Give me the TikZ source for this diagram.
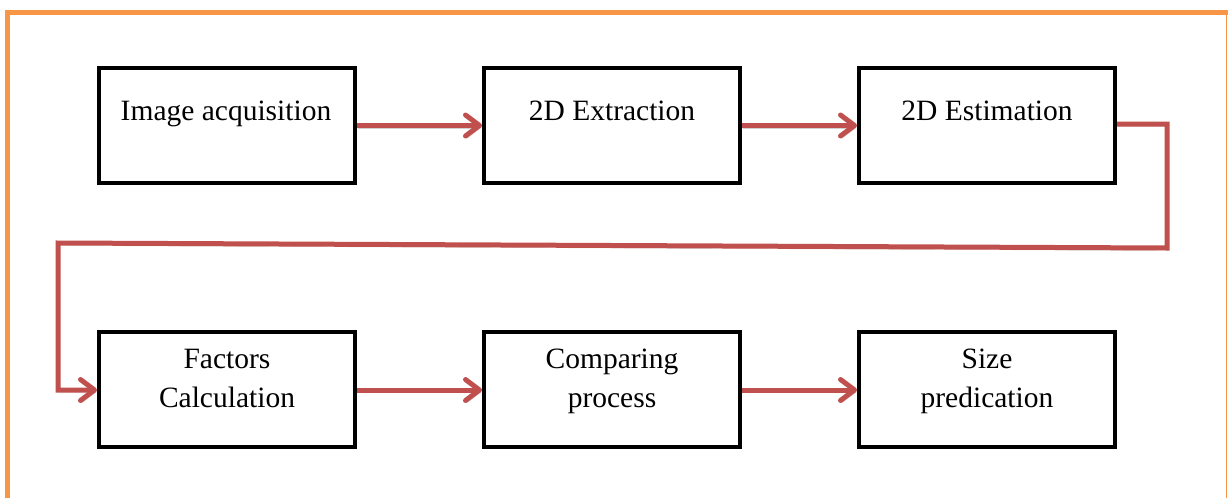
\documentclass[tikz,border=0pt]{standalone}
\usepackage{fontspec}
\setmainfont{Liberation Serif}
\usetikzlibrary{arrows.meta}
\definecolor{framecol}{HTML}{F79646}
\definecolor{arrowred}{HTML}{C0504D}
\tikzset{
  stepbox/.style={draw=black, line width=4pt, minimum width=256pt, minimum height=115pt, inner sep=0pt, fill=white},
  lbl/.style={anchor=base, align=center, inner sep=0pt, font=\fontsize{29.5}{39}\selectfont},
  flow/.style={draw=arrowred, line width=5pt, line join=miter,
    -{Straight Barb[round, length=14pt, width=21pt]},
    preaction={draw=black!18, -{Straight Barb[round, length=14pt, width=21pt]}, transform canvas={xshift=1.2pt, yshift=-2.5pt}}},
}
\begin{document}
\begin{tikzpicture}[x=1pt, y=-1pt]
\useasboundingbox (0,0) rectangle (1228,498);
% frame
\draw[framecol, line width=5pt] (7.5,498) -- (7.5,12.5) -- (1228,12.5);
\draw[framecol, line width=1.5pt] (1226.5,15) -- (1226.5,498);
% boxes
\node[stepbox] (b1) at (227,125.5) {};
\node[stepbox] (b2) at (612,125.5) {};
\node[stepbox] (b3) at (987,125.5) {};
\node[stepbox] (b4) at (227,389) {};
\node[stepbox] (b5) at (612,389) {};
\node[stepbox] (b6) at (987,389) {};
% labels (base = last line)
\node[lbl] (t1) at (226,120) {Image acquisition};
\node[lbl] (t2) at (612,120) {2D Extraction};
\node[lbl] (t3) at (987,120) {2D Estimation};
\node[lbl] (t4) at (227,407) {Factors\\Calculation};
\node[lbl] (t5) at (612,407) {Comparing\\process};
\node[lbl] (t6) at (987,407) {Size\\predication};
% connectors
\coordinate (c1) at (1167,124);
\coordinate (c2) at (1167,248);
\coordinate (c3) at (58,243);
\coordinate (c4) at (58,390);
\draw[flow] (b1.east) -- (b2.west);
\draw[flow] (b2.east) -- (b3.west);
\draw[flow] (b3.east |- c1) -- (c1) -- (c2) -- (c3) -- (c4) -- (b4.west |- c4);
\draw[flow] (b4.east |- c4) -- (b5.west |- c4);
\draw[flow] (b5.east |- c4) -- (b6.west |- c4);
\end{tikzpicture}
\end{document}
